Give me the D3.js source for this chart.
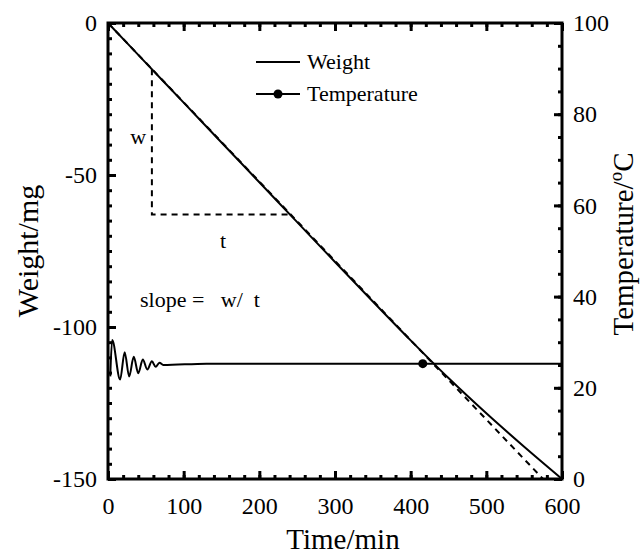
<!DOCTYPE html>
<html>
<head>
<meta charset="utf-8">
<script src="https://cdn.jsdelivr.net/npm/d3@7"></script>
<style>
  body { margin: 0; background: #fff; }
  svg { display: block; }
  svg text { font-family: "Liberation Serif", "Times New Roman", serif; white-space: pre; fill: #000; }
</style>
</head>
<body>
<svg id="chart" width="643" height="554"></svg>
<script>
// ---- data ----
const weightTime = [0, 50, 100, 150, 200, 250, 300, 350, 400, 450, 500, 550, 600];
const weightValues = [0, -13.1, -26.2, -39.3, -52.4, -65.5, -78.6, -91.6, -104.4, -116.8, -128.4, -139.4, -150];

const tangentTime = [0, 575];
const tangentWeight = [0, -150];

const triangleTime = [58, 58, 241];
const triangleWeight = [-15.2, -63, -63];

const tempTime = [3, 5.5, 16, 22, 28, 34, 40, 46, 52, 58, 63, 68, 73, 130, 600];
const tempValues = [22.5, 30.5, 21.8, 27.8, 22.5, 26.8, 23.2, 26.2, 24.0, 25.8, 24.6, 25.5, 25.0, 25.3, 25.3];

const tempMarkerTime = [416];
const tempMarkerValue = [25.3];

const xTicks = [0, 100, 200, 300, 400, 500, 600];
const yLeftTicks = [0, -50, -100, -150];
const yRightTicks = [0, 20, 40, 60, 80, 100];

const legendLabels = ["Weight", "Temperature"];
const xTitle = "Time/min";
const yLeftTitle = "Weight/mg";

// ---- layout ----
const FONT = '"Liberation Serif", "Times New Roman", serif';
const svg = d3.select("#chart");
const m = { left: 108, top: 23, width: 454, height: 456 };
const g = svg.append("g").attr("transform", `translate(${m.left},${m.top})`);

const x = d3.scaleLinear().domain([0, 600]).range([0, m.width]);
const yL = d3.scaleLinear().domain([-150, 0]).range([m.height, 0]);
const yR = d3.scaleLinear().domain([0, 100]).range([m.height, 0]);

const fmt = d => String(d); // plain hyphen-minus like the reference

// ---- data lines ----
const wPts = weightTime.map((t, i) => [t, weightValues[i]]);
g.append("path")
  .datum(wPts)
  .attr("fill", "none").attr("stroke", "#000").attr("stroke-width", 2)
  .attr("d", d3.line().x(d => x(d[0])).y(d => yL(d[1])).curve(d3.curveMonotoneX));

const tanPts = tangentTime.map((t, i) => [t, tangentWeight[i]]);
g.append("path")
  .datum(tanPts)
  .attr("fill", "none").attr("stroke", "#000").attr("stroke-width", 2)
  .attr("stroke-dasharray", "6,5")
  .attr("d", d3.line().x(d => x(d[0])).y(d => yL(d[1])));

const triPts = triangleTime.map((t, i) => [t, triangleWeight[i]]);
g.append("path")
  .datum(triPts)
  .attr("fill", "none").attr("stroke", "#000").attr("stroke-width", 2)
  .attr("stroke-dasharray", "6,5")
  .attr("d", d3.line().x(d => x(d[0])).y(d => yL(d[1])));

const tPts = tempTime.map((t, i) => [t, tempValues[i]]);
g.append("path")
  .datum(tPts)
  .attr("fill", "none").attr("stroke", "#000").attr("stroke-width", 2)
  .attr("d", d3.line().x(d => x(d[0])).y(d => yR(d[1])).curve(d3.curveMonotoneX));

g.selectAll("circle.marker")
  .data(tempMarkerTime.map((t, i) => [t, tempMarkerValue[i]]))
  .enter().append("circle")
  .attr("class", "marker")
  .attr("cx", d => x(d[0])).attr("cy", d => yR(d[1])).attr("r", 4.5)
  .attr("fill", "#000");

// ---- annotations ----
g.append("text").attr("x", x(40)).attr("y", yL(-37.5)).attr("dy", "0.3em")
  .attr("text-anchor", "middle").style("font-size", "22px").text("w");
g.append("text").attr("x", x(152)).attr("y", yL(-71.5)).attr("dy", "0.35em")
  .attr("text-anchor", "middle").style("font-size", "22px").text("t");
g.append("text").attr("x", 32).attr("y", yL(-91)).attr("dy", "0.35em")
  .attr("text-anchor", "start").style("font-size", "22px").text("slope =   w/  t");

// ---- axes ----
function styleAxis(sel) {
  sel.attr("font-family", null).attr("font-size", null);
  sel.select(".domain").remove();
  sel.selectAll(".tick line").attr("stroke", "#000").attr("stroke-width", 3);
  sel.selectAll(".tick text").attr("fill", "#000")
    .style("font-family", FONT).style("font-size", "24px");
}

const xMinor = d3.range(0, 601, 20);
const yLMinor = d3.range(-150, 1, 5);
const yRMinor = d3.range(0, 101, 5);

// minor ticks
g.append("g").attr("transform", `translate(0,${m.height})`)
  .call(d3.axisBottom(x).tickValues(xMinor).tickSize(-4).tickFormat("")).call(styleAxis);
g.append("g")
  .call(d3.axisTop(x).tickValues(xMinor).tickSize(-4).tickFormat("")).call(styleAxis);
g.append("g")
  .call(d3.axisLeft(yL).tickValues(yLMinor).tickSize(-4).tickFormat("")).call(styleAxis);
g.append("g").attr("transform", `translate(${m.width},0)`)
  .call(d3.axisRight(yR).tickValues(yRMinor).tickSize(-4).tickFormat("")).call(styleAxis);

// major ticks
g.append("g").attr("transform", `translate(0,${m.height})`)
  .call(d3.axisBottom(x).tickValues(xTicks).tickSize(-8).tickPadding(18).tickFormat(fmt)).call(styleAxis);
g.append("g")
  .call(d3.axisTop(x).tickValues(xTicks).tickSize(-8).tickFormat("")).call(styleAxis);
g.append("g")
  .call(d3.axisLeft(yL).tickValues(yLeftTicks).tickSize(-8).tickPadding(11).tickFormat(fmt)).call(styleAxis);
g.append("g").attr("transform", `translate(${m.width},0)`)
  .call(d3.axisRight(yR).tickValues(yRightTicks).tickSize(-8).tickPadding(11).tickFormat(fmt)).call(styleAxis);

// frame
g.append("rect").attr("x", 0).attr("y", 0).attr("width", m.width).attr("height", m.height)
  .attr("fill", "none").attr("stroke", "#000").attr("stroke-width", 3);

// ---- titles ----
svg.append("text").attr("x", 343).attr("y", 549)
  .attr("text-anchor", "middle").style("font-size", "29px").text(xTitle);
svg.append("text")
  .attr("transform", `translate(38,${m.top + m.height / 2}) rotate(-90)`)
  .attr("text-anchor", "middle").style("font-size", "30px").text(yLeftTitle);
const rt = svg.append("text")
  .attr("transform", `translate(633,${m.top + m.height / 2 - 7}) rotate(-90)`)
  .attr("text-anchor", "middle").style("font-size", "29px");
rt.append("tspan").text("Temperature/");
rt.append("tspan").style("font-size", "19px").attr("dy", "-0.6em").text("o");
rt.append("tspan").attr("dy", "0.4em").text("C");

// ---- legend ----
const leg = svg.append("g");
const legY = [62, 94];
leg.append("line").attr("x1", 256).attr("x2", 300).attr("y1", legY[0]).attr("y2", legY[0])
  .attr("stroke", "#000").attr("stroke-width", 2);
leg.append("line").attr("x1", 256).attr("x2", 300).attr("y1", legY[1]).attr("y2", legY[1])
  .attr("stroke", "#000").attr("stroke-width", 2);
leg.append("circle").attr("cx", 278).attr("cy", legY[1]).attr("r", 4.5).attr("fill", "#000");
legendLabels.forEach((l, i) => {
  leg.append("text").attr("x", 307).attr("y", legY[i]).attr("dy", "0.33em")
    .style("font-size", "22px").text(l);
});
</script>
</body>
</html>
